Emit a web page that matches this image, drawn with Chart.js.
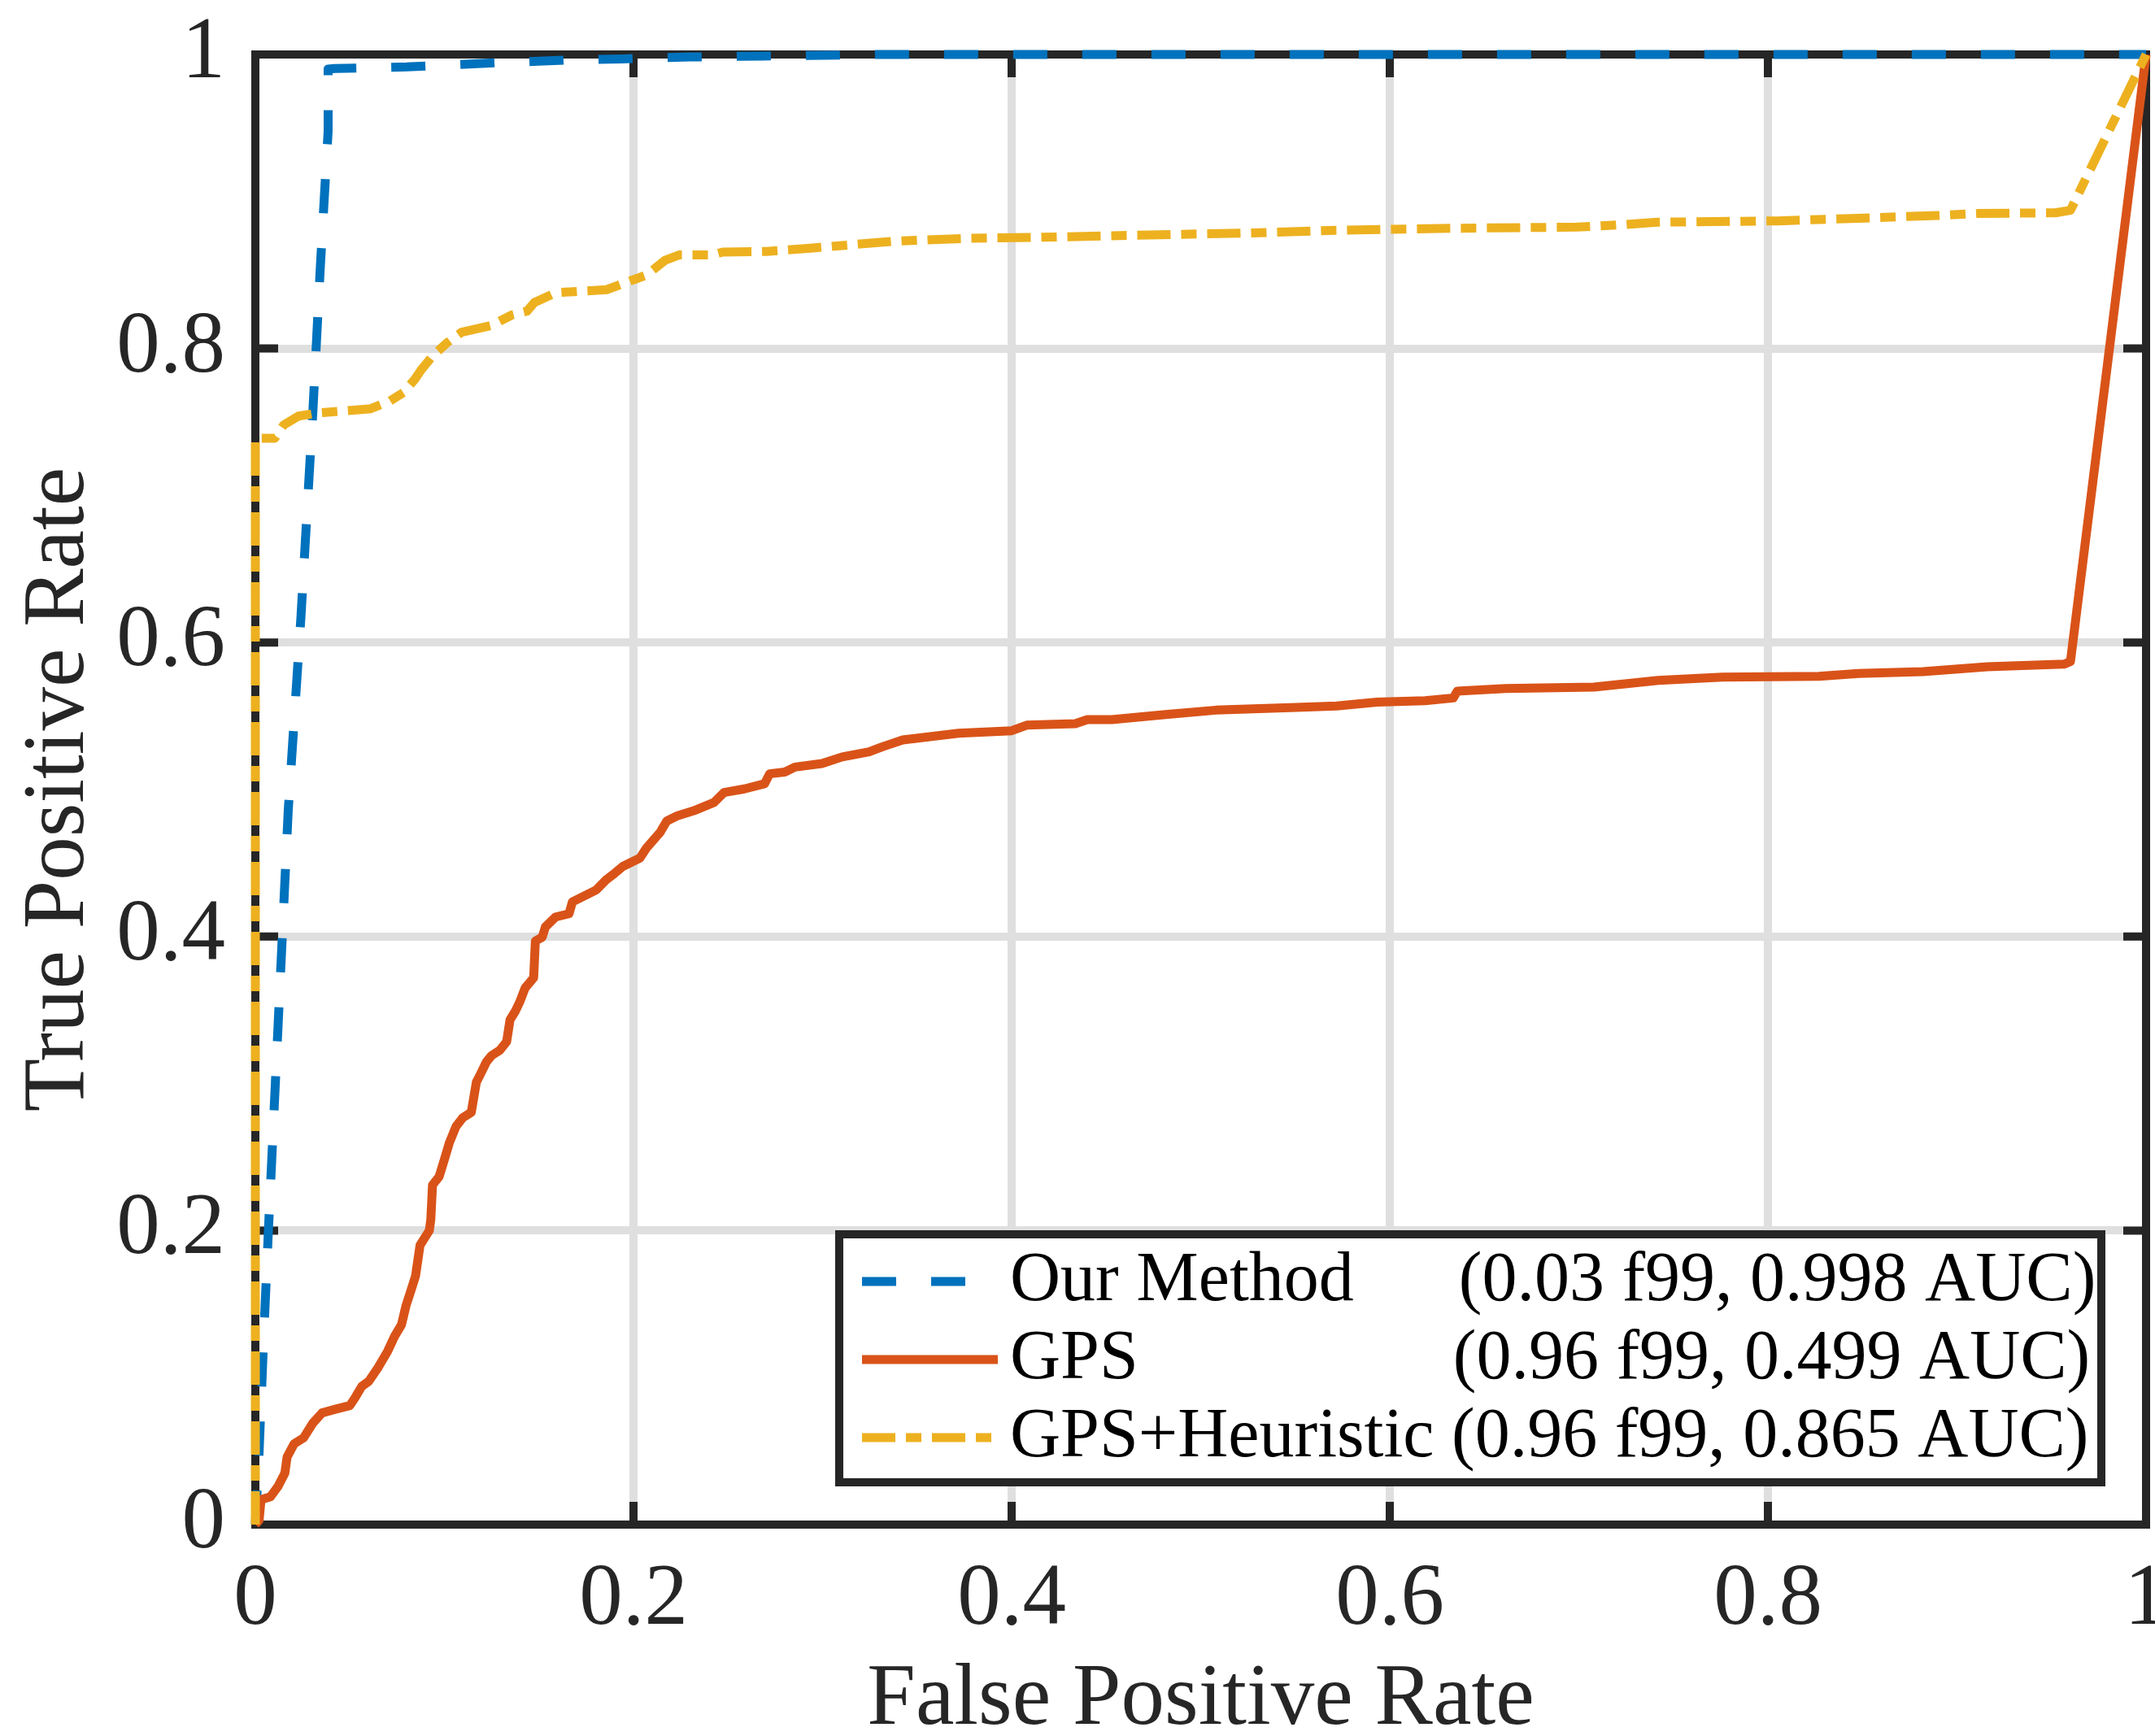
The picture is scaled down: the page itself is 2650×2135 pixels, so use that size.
<!DOCTYPE html>
<html>
<head>
<meta charset="utf-8">
<title>ROC</title>
<script src="https://cdn.jsdelivr.net/npm/chart.js@4.4.1/dist/chart.umd.min.js"></script>
<style>
  html, body { margin: 0; padding: 0; background: #fff; }
  canvas { display: block; }
</style>
</head>
<body>
<canvas id="chartRoc" width="2650" height="2135"></canvas>
<script>
// ---------- Datos ----------
const xTicks = [0, 0.2, 0.4, 0.6, 0.8, 1];
const yTicks = [0, 0.2, 0.4, 0.6, 0.8, 1];
const xTickLabels = ["0", "0.2", "0.4", "0.6", "0.8", "1"];
const yTickLabels = ["0", "0.2", "0.4", "0.6", "0.8", "1"];

const legendLabels = [
  "Our Method      (0.03 f99, 0.998 AUC)",
  "GPS                  (0.96 f99, 0.499 AUC)",
  "GPS+Heuristic (0.96 f99, 0.865 AUC)",
];

const ourFpr = [0, 0.002, 0.0045, 0.0069, 0.0174, 0.0241, 0.0305, 0.0343, 0.0385, 0.0385, 0.042,
  0.08, 0.1265, 0.163, 0.194, 0.23, 0.268, 0.30, 0.33, 1];
const ourTpr = [0, 0.05, 0.13, 0.2, 0.486, 0.617, 0.759, 0.854, 0.948, 0.99, 0.9905,
  0.9915, 0.9943, 0.9961, 0.997, 0.9983, 0.9989, 0.9994, 1, 1];

const gpsFpr = [0, 0.002, 0.003, 0.008, 0.012, 0.0156, 0.0168, 0.0205, 0.0255, 0.0304, 0.0353,
  0.0427, 0.050, 0.0526, 0.0563, 0.060, 0.065, 0.070, 0.0736, 0.0773, 0.0797, 0.082, 0.0847,
  0.0871, 0.092, 0.0928, 0.0937, 0.0972, 0.0999, 0.1026, 0.1062, 0.1097, 0.1142, 0.1169,
  0.1187, 0.1222, 0.1249, 0.1293, 0.1329, 0.1347, 0.1374, 0.14, 0.1427, 0.1472, 0.1481,
  0.1517, 0.1534, 0.1588, 0.1659, 0.1677, 0.1748, 0.1802, 0.1855, 0.19, 0.1944, 0.2034,
  0.2069, 0.214, 0.2176, 0.223, 0.2319, 0.2426, 0.2479, 0.2586, 0.2693, 0.272, 0.28, 0.2854,
  0.2997, 0.3104, 0.3246, 0.3317, 0.3424, 0.372, 0.40, 0.408, 0.4337, 0.44, 0.453, 0.4826,
  0.5081, 0.5506, 0.5719, 0.5932, 0.6187, 0.6336, 0.6357, 0.6612, 0.708, 0.742, 0.776, 0.827,
  0.848, 0.882, 0.916, 0.9566, 0.96, 1];
const gpsTpr = [0, 0.003, 0.017, 0.019, 0.026, 0.035, 0.046, 0.055, 0.059, 0.069, 0.076,
  0.0786, 0.081, 0.086, 0.094, 0.0975, 0.107, 0.118, 0.128, 0.136, 0.149, 0.158, 0.169,
  0.19, 0.200, 0.2074, 0.231, 0.2367, 0.248, 0.2597, 0.271, 0.2768, 0.2804, 0.301,
  0.3055, 0.3147, 0.319, 0.3227, 0.3285, 0.3434, 0.349, 0.356, 0.365, 0.372, 0.397,
  0.3995, 0.4065, 0.4133, 0.4155, 0.4236, 0.4282, 0.4316, 0.4385, 0.443, 0.4477, 0.4534,
  0.4603, 0.4707, 0.4786, 0.482, 0.4856, 0.4912, 0.498, 0.5004, 0.5039, 0.5107, 0.5119, 0.5153,
  0.5177, 0.5222, 0.5256, 0.5291, 0.5337, 0.5383, 0.540, 0.5438, 0.5448, 0.5476, 0.5476, 0.5512,
  0.554, 0.5558, 0.5568, 0.5595, 0.5604, 0.5623, 0.5669, 0.5687, 0.5697, 0.5743, 0.5765, 0.577,
  0.5789, 0.5802, 0.5835, 0.5853, 0.587, 1];

const heurFpr = [0, 0, 0.0017, 0.0103, 0.015, 0.0228, 0.032, 0.061, 0.0708, 0.0783, 0.0843,
  0.088, 0.0938, 0.1015, 0.109, 0.1246, 0.136, 0.1437, 0.1476, 0.159, 0.1858, 0.1994, 0.207,
  0.2167, 0.2244, 0.2417, 0.2473, 0.2705, 0.295, 0.3376, 0.3758, 0.4226, 0.4864, 0.5246,
  0.5714, 0.6352, 0.699, 0.7202, 0.7415, 0.8052, 0.8477, 0.8903, 0.9116, 0.952, 0.96, 1];
const heurTpr = [0, 0.739, 0.739, 0.739, 0.748, 0.754, 0.756, 0.759, 0.764, 0.770, 0.779,
  0.786, 0.795, 0.804, 0.811, 0.8156, 0.823, 0.8254, 0.8313, 0.838, 0.840, 0.8465, 0.850,
  0.860, 0.8637, 0.8637, 0.8656, 0.866, 0.8684, 0.873, 0.8749, 0.8758, 0.8776, 0.8785,
  0.8804, 0.8818, 0.8826, 0.884, 0.8859, 0.8868, 0.8886, 0.8905, 0.8919, 0.8923, 0.894, 1];

// ---------- Estilo ----------
const axisColor = "#262626";
const fontFamily = "'Liberation Serif', 'Times New Roman', serif";

function toPoints(xs, ys) {
  return xs.map((x, i) => ({ x, y: ys[i] }));
}

// marco, ticks hacia dentro (estilo MATLAB)
const marcoPlugin = {
  id: "marco",
  beforeDatasetsDraw(chart) {
    const { ctx, chartArea: a, scales } = chart;
    ctx.save();
    ctx.strokeStyle = axisColor;
    ctx.lineWidth = 10;
    ctx.lineCap = "butt";
    ctx.beginPath();
    xTicks.forEach((v) => {
      const px = scales.x.getPixelForValue(v);
      ctx.moveTo(px, a.bottom); ctx.lineTo(px, a.bottom - 28);
      ctx.moveTo(px, a.top); ctx.lineTo(px, a.top + 28);
    });
    yTicks.forEach((v) => {
      const py = scales.y.getPixelForValue(v);
      ctx.moveTo(a.left, py); ctx.lineTo(a.left + 28, py);
      ctx.moveTo(a.right, py); ctx.lineTo(a.right - 28, py);
    });
    ctx.stroke();
    ctx.lineJoin = "miter";
    ctx.strokeRect(a.left, a.top, a.right - a.left, a.bottom - a.top);
    ctx.restore();
  },
};

// leyenda dentro del área (southeast)
const leyendaPlugin = {
  id: "leyenda",
  afterDatasetsDraw(chart) {
    const { ctx, chartArea: a } = chart;
    const right = a.right - 55, bottom = a.bottom - 52;
    const left = right - 1552, top = bottom - 305;
    ctx.save();
    ctx.fillStyle = "#fff";
    ctx.fillRect(left, top, right - left, bottom - top);
    ctx.lineWidth = 10;
    ctx.strokeStyle = axisColor;
    ctx.lineJoin = "miter";
    ctx.strokeRect(left, top, right - left, bottom - top);

    ctx.font = "86px " + fontFamily;
    ctx.textBaseline = "middle";
    chart.data.datasets.forEach((ds, i) => {
      const y = top + 58 + i * 96;
      ctx.beginPath();
      ctx.setLineDash(ds.borderDash || []);
      ctx.lineWidth = ds.borderWidth;
      ctx.strokeStyle = ds.borderColor;
      ctx.lineCap = "butt";
      ctx.moveTo(left + 28, y);
      ctx.lineTo(left + 195, y);
      ctx.stroke();
      ctx.setLineDash([]);
      ctx.fillStyle = "#000";
      ctx.fillText(legendLabels[i], left + 210, y);
    });
    ctx.restore();
  },
};

// ---------- Gráfico ----------
const ctx = document.getElementById("chartRoc").getContext("2d");
new Chart(ctx, {
  type: "scatter",
  data: {
    datasets: [
      {
        label: "Our Method",
        data: toPoints(ourFpr, ourTpr),
        borderColor: "#0072BD",
        borderWidth: 11,
        borderDash: [42, 43],
        order: 2,
      },
      {
        label: "GPS",
        data: toPoints(gpsFpr, gpsTpr),
        borderColor: "#D95319",
        borderWidth: 11,
        order: 1,
      },
      {
        label: "GPS+Heuristic",
        data: toPoints(heurFpr, heurTpr),
        borderColor: "#EDB120",
        borderWidth: 11,
        borderDash: [41, 13, 19, 13],
        order: 0,
      },
    ].map((d) => Object.assign(d, {
      showLine: true,
      pointRadius: 0,
      tension: 0,
      fill: false,
      clip: 12,
      borderCapStyle: "butt",
      borderJoinStyle: "round",
    })),
  },
  options: {
    responsive: false,
    animation: false,
    events: [],
    layout: { padding: { left: 0, right: 11, top: 67, bottom: 0 } },
    plugins: { legend: { display: false }, tooltip: { enabled: false } },
    scales: {
      x: {
        type: "linear",
        min: 0,
        max: 1,
        afterBuildTicks: (s) => { s.ticks = xTicks.map((v) => ({ value: v })); },
        afterFit: (s) => {
          s.height = 260;
          s.paddingLeft = 0; s.paddingRight = 0;
        },
        grid: { color: "#dfdfdf", lineWidth: 10, drawTicks: false },
        border: { display: false },
        ticks: {
          autoSkip: false,
          maxRotation: 0,
          padding: 30,
          color: axisColor,
          font: { family: fontFamily, size: 107 },
          callback: (v, i) => xTickLabels[i],
        },
        title: {
          display: true,
          text: "False Positive Rate",
          color: axisColor,
          font: { family: fontFamily, size: 107, lineHeight: 0.8 },
          padding: { top: 0, bottom: 0 },
        },
      },
      y: {
        type: "linear",
        min: 0,
        max: 1,
        afterBuildTicks: (s) => { s.ticks = yTicks.map((v) => ({ value: v })); },
        afterFit: (s) => {
          s.width = 314;
          s.paddingTop = 0; s.paddingBottom = 0;
        },
        grid: { color: "#dfdfdf", lineWidth: 10, drawTicks: false },
        border: { display: false },
        ticks: {
          autoSkip: false,
          padding: 37,
          color: axisColor,
          font: { family: fontFamily, size: 107 },
          callback: (v, i) => yTickLabels[i],
        },
        title: {
          display: true,
          text: "True Positive Rate",
          color: axisColor,
          font: { family: fontFamily, size: 107, lineHeight: 0.8 },
          padding: { top: 31, bottom: 0 },
        },
      },
    },
  },
  plugins: [marcoPlugin, leyendaPlugin],
});
</script>
</body>
</html>
